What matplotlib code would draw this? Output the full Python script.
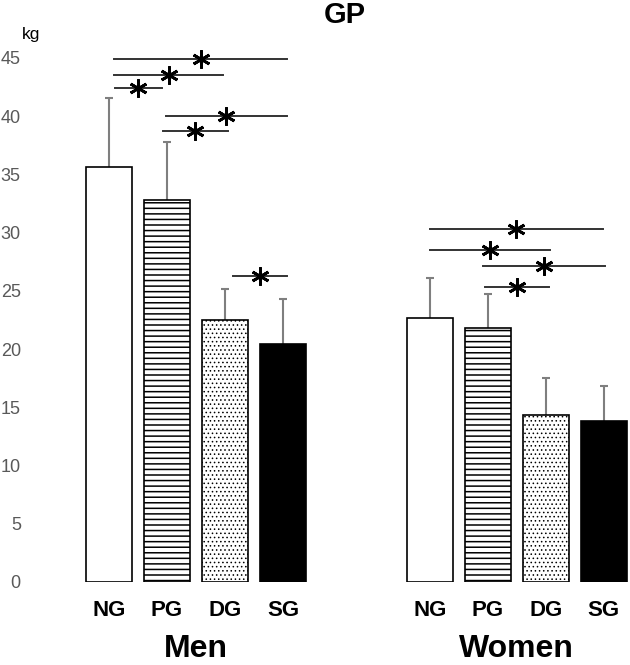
import matplotlib
matplotlib.use("Agg")
import matplotlib.pyplot as plt
from matplotlib.transforms import blended_transform_factory

# ---- data ----
groups = ["Men", "Women"]
categories = ["NG", "PG", "DG", "SG"]
men_means = [35.6, 32.8, 22.5, 20.4]
men_sd = [6.0, 5.0, 2.7, 3.9]
women_means = [22.7, 21.8, 14.3, 13.8]
women_sd = [3.4, 2.9, 3.2, 3.0]
yticks = [0, 5, 10, 15, 20, 25, 30, 35, 40, 45]
# significance brackets: (group index, start offset, end offset, y)
men_sig = [(0, 0.09, 3.07, 44.9), (0, 0.09, 1.97, 43.5), (0, 0.10, 0.91, 42.4),
           (0, 0.98, 3.07, 40.0), (0, 0.93, 2.05, 38.7), (0, 2.14, 3.07, 26.3)]
women_sig = [(1, 0.0, 2.98, 30.3), (1, 0.0, 2.07, 28.5),
             (1, 0.92, 3.02, 27.1), (1, 0.95, 2.06, 25.3)]

fills = ["white", "white", "white", "black"]
hatches = [None, "---", "....", None]
hatch_lw = [1.0, 1.1, 0.6, 1.0]
group_start = [0.0, 5.53]

plt.rcParams["font.family"] = ["Liberation Sans", "DejaVu Sans"]

fig = plt.figure(figsize=(6.3, 6.65), dpi=100)
L = 50 / 630
ax = fig.add_axes([L, 83 / 665, 1 - L, (582 - 58) / 665])

xs_all, labels_all = [], []
for g, (means, sds) in enumerate([(men_means, men_sd), (women_means, women_sd)]):
    xs = [group_start[g] + i for i in range(len(categories))]
    xs_all += xs
    labels_all += categories
    tops = [m + s for m, s in zip(means, sds)]
    ax.vlines(xs, means, tops, color="#7f7f7f", lw=1.5, zorder=1)
    ax.hlines(tops, [x - 0.07 for x in xs], [x + 0.07 for x in xs],
              color="#7f7f7f", lw=1.5, zorder=1)
    for x, m, f, h, hl in zip(xs, means, fills, hatches, hatch_lw):
        plt.rcParams["hatch.linewidth"] = hl
        ax.bar(x, m, width=0.79, color=f, edgecolor="black", hatch=h,
               linewidth=1.2, zorder=2)

for g, a, b, y in men_sig + women_sig:
    x0 = group_start[g] + a
    x1 = group_start[g] + b
    ax.plot([x0, x1], [y, y], color="#333333", lw=1.4, clip_on=False, zorder=3)
    ax.plot([(x0 + x1) / 2], [y], marker=(6, 2, 0), ms=13, mew=2.0,
            color="black", clip_on=False, zorder=4)

ax.set_xlim(-59 / 58, 521 / 58)
ax.set_ylim(0, 45)
ax.set_yticks(yticks)
ax.set_yticklabels([str(t) for t in yticks], color="#595959", fontsize=13)
ax.tick_params(axis="y", length=0, pad=21)
ax.set_xticks(xs_all)
ax.set_xticklabels(labels_all, fontsize=16, fontweight="bold")
ax.tick_params(axis="x", length=0, pad=13)
for s in ax.spines.values():
    s.set_visible(False)

tr = blended_transform_factory(ax.transData, fig.transFigure)
for g, name in enumerate(groups):
    cx = group_start[g] + 1.5
    ax.text(cx, 16 / 665, name, transform=tr, ha="center", va="center",
            fontsize=23, fontweight="bold", clip_on=False)

fig.text(345 / 630, 1 - 15 / 665, "GP", ha="center", va="center",
         fontsize=21, fontweight="bold")
fig.text(31.5 / 630, 1 - 35 / 665, "kg", ha="center", va="center", fontsize=12.5)

fig.savefig("out.png", dpi=100)
